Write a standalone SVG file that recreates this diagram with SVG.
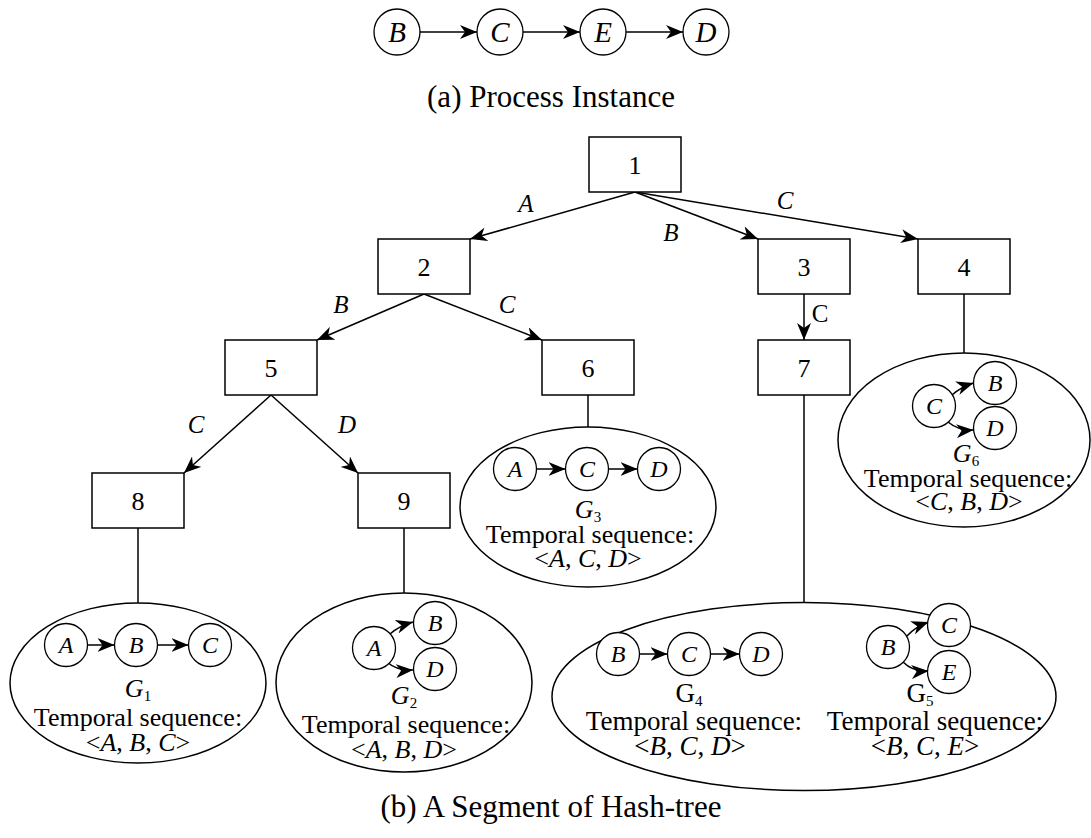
<svg xmlns="http://www.w3.org/2000/svg" width="1091" height="838" viewBox="0 0 1091 838">
<defs>
<marker id="ah" viewBox="0 0 17 14" refX="17" refY="7" markerWidth="17" markerHeight="14" markerUnits="userSpaceOnUse" orient="auto"><path d="M0,0 L17,7 L0,14 L5,7 z" fill="#000"/></marker>
</defs>
<style>
.box{fill:#fff;stroke:#000;stroke-width:1.5}
.ell{fill:none;stroke:#000;stroke-width:1.5}
.st{fill:#fff;stroke:#000;stroke-width:1.3}
.e{fill:none;stroke:#000;stroke-width:1.5}
.a{marker-end:url(#ah)}
text{font-family:"Liberation Serif","Times New Roman",serif;fill:#000}
.num{font-size:26px;text-anchor:middle}
.lbl{font-size:25px;font-style:italic;text-anchor:middle}
.up{font-size:25px;text-anchor:middle}
.sl{font-size:24px;font-style:italic;text-anchor:middle}
.big{font-size:29px;font-style:italic;text-anchor:middle}
.ts{font-size:26px;text-anchor:middle}
.tb{font-size:27px;text-anchor:middle}
.cap{font-size:31px;text-anchor:middle}
.sub{font-size:15px;font-style:normal}
.i{font-style:italic}
</style>

<g id="instance">
<g class="e a">
<line x1="420" y1="32" x2="477" y2="32"/>
<line x1="523" y1="32" x2="580" y2="32"/>
<line x1="626" y1="32" x2="683" y2="32"/>
</g>
<circle class="st" cx="397" cy="32" r="23"/><text class="big" x="397" y="42">B</text>
<circle class="st" cx="500" cy="32" r="23"/><text class="big" x="500" y="42">C</text>
<circle class="st" cx="603" cy="32" r="23"/><text class="big" x="603" y="42">E</text>
<circle class="st" cx="706" cy="32" r="23"/><text class="big" x="706" y="42">D</text>
<text class="cap" x="551" y="107">(a) Process Instance</text>
</g>

<g id="connectors">
<g class="e a">
<line x1="635" y1="192" x2="470" y2="239"/>
<line x1="635" y1="192" x2="758" y2="239"/>
<line x1="635" y1="192" x2="918" y2="239"/>
<line x1="424" y1="294" x2="317" y2="340"/>
<line x1="424" y1="294" x2="542" y2="340"/>
<line x1="804" y1="294" x2="804" y2="340"/>
<line x1="271" y1="395" x2="184" y2="473"/>
<line x1="271" y1="395" x2="358" y2="473"/>
</g>
<g class="e">
<line x1="964" y1="294" x2="964" y2="353"/>
<line x1="588" y1="395" x2="588" y2="427"/>
<line x1="804" y1="395" x2="804" y2="602.5"/>
<line x1="138" y1="528" x2="138" y2="603"/>
<line x1="404" y1="528" x2="404" y2="593"/>
</g>
<text class="lbl" x="526" y="212">A</text>
<text class="lbl" x="671" y="241">B</text>
<text class="lbl" x="785" y="209">C</text>
<text class="lbl" x="341" y="313">B</text>
<text class="lbl" x="507" y="313">C</text>
<text class="up" x="820" y="322">C</text>
<text class="lbl" x="196" y="433">C</text>
<text class="lbl" x="347" y="433">D</text>
</g>

<g id="node-1"><rect class="box" x="589" y="137" width="92" height="55"/><text class="num" x="635" y="174">1</text></g>
<g id="node-2"><rect class="box" x="378" y="239" width="92" height="55"/><text class="num" x="424" y="276">2</text></g>
<g id="node-3"><rect class="box" x="758" y="239" width="92" height="55"/><text class="num" x="804" y="276">3</text></g>
<g id="node-4"><rect class="box" x="918" y="239" width="92" height="55"/><text class="num" x="964" y="276">4</text></g>
<g id="node-5"><rect class="box" x="225" y="340" width="92" height="55"/><text class="num" x="271" y="377">5</text></g>
<g id="node-6"><rect class="box" x="542" y="340" width="92" height="55"/><text class="num" x="588" y="377">6</text></g>
<g id="node-7"><rect class="box" x="758" y="340" width="92" height="55"/><text class="num" x="804" y="377">7</text></g>
<g id="node-8"><rect class="box" x="92" y="473" width="92" height="55"/><text class="num" x="138" y="510">8</text></g>
<g id="node-9"><rect class="box" x="358" y="473" width="92" height="55"/><text class="num" x="404" y="510">9</text></g>

<g id="seq-G1">
<ellipse class="ell" cx="138" cy="683" rx="128" ry="80"/>
<g class="e a"><line x1="87.5" y1="645" x2="114.5" y2="645"/><line x1="157.5" y1="645" x2="188.5" y2="645"/></g>
<circle class="st" cx="66" cy="645" r="21.5"/><text class="sl" x="66" y="653">A</text>
<circle class="st" cx="136" cy="645" r="21.5"/><text class="sl" x="136" y="653">B</text>
<circle class="st" cx="210" cy="645" r="21.5"/><text class="sl" x="210" y="653">C</text>
<text class="ts" x="138" y="697"><tspan class="i">G</tspan><tspan class="sub" dy="4">1</tspan></text>
<text class="ts" x="138" y="726">Temporal sequence:</text>
<text class="ts" x="138" y="751">&lt;<tspan class="i">A</tspan>, <tspan class="i">B</tspan>, <tspan class="i">C</tspan>&gt;</text>
</g>

<g id="seq-G2">
<ellipse class="ell" cx="404" cy="682.5" rx="128" ry="89.5"/>
<g class="e a"><path d="M390,634 Q399,626 413,622"/><path d="M387,662 Q397,671 413,670"/></g>
<circle class="st" cx="374" cy="648" r="21.5"/><text class="sl" x="374" y="656">A</text>
<circle class="st" cx="435" cy="623" r="21.5"/><text class="sl" x="435" y="631">B</text>
<circle class="st" cx="435" cy="669" r="21.5"/><text class="sl" x="435" y="677">D</text>
<text class="ts" x="404" y="704"><tspan class="i">G</tspan><tspan class="sub" dy="4">2</tspan></text>
<text class="ts" x="406" y="733">Temporal sequence:</text>
<text class="ts" x="404" y="758">&lt;<tspan class="i">A</tspan>, <tspan class="i">B</tspan>, <tspan class="i">D</tspan>&gt;</text>
</g>

<g id="seq-G3">
<ellipse class="ell" cx="588" cy="507" rx="128" ry="80"/>
<g class="e a"><line x1="536.5" y1="469" x2="565.5" y2="469"/><line x1="608.5" y1="469" x2="637.5" y2="469"/></g>
<circle class="st" cx="515" cy="469" r="21.5"/><text class="sl" x="515" y="477">A</text>
<circle class="st" cx="587" cy="469" r="21.5"/><text class="sl" x="587" y="477">C</text>
<circle class="st" cx="659" cy="469" r="21.5"/><text class="sl" x="659" y="477">D</text>
<text class="ts" x="588" y="518"><tspan class="i">G</tspan><tspan class="sub" dy="4">3</tspan></text>
<text class="ts" x="590" y="543">Temporal sequence:</text>
<text class="ts" x="588" y="567">&lt;<tspan class="i">A</tspan>, <tspan class="i">C</tspan>, <tspan class="i">D</tspan>&gt;</text>
</g>

<g id="seq-G6">
<ellipse class="ell" cx="964" cy="440" rx="126" ry="87"/>
<g class="e a"><path d="M952,395 Q961,387 973.5,383"/><path d="M948,422 Q959,431 973.5,430"/></g>
<circle class="st" cx="934" cy="406" r="21.5"/><text class="sl" x="934" y="414">C</text>
<circle class="st" cx="995" cy="383" r="21.5"/><text class="sl" x="995" y="391">B</text>
<circle class="st" cx="995" cy="428" r="21.5"/><text class="sl" x="995" y="436">D</text>
<text class="ts" x="966" y="462"><tspan class="i">G</tspan><tspan class="sub" dy="4">6</tspan></text>
<text class="ts" x="968" y="487">Temporal sequence:</text>
<text class="ts" x="969" y="510">&lt;<tspan class="i">C</tspan>, <tspan class="i">B</tspan>, <tspan class="i">D</tspan>&gt;</text>
</g>

<g id="seq-G4-G5">
<ellipse class="ell" cx="804" cy="696.5" rx="252" ry="94"/>
<g id="seq-G4">
<g class="e a"><line x1="639.5" y1="654" x2="667.5" y2="654"/><line x1="710.5" y1="654" x2="739.5" y2="654"/></g>
<circle class="st" cx="618" cy="654" r="21.5"/><text class="sl" x="618" y="662">B</text>
<circle class="st" cx="689" cy="654" r="21.5"/><text class="sl" x="689" y="662">C</text>
<circle class="st" cx="761" cy="654" r="21.5"/><text class="sl" x="761" y="662">D</text>
<text class="tb" x="689" y="702">G<tspan class="sub" dy="4">4</tspan></text>
<text class="tb" x="694" y="730">Temporal sequence:</text>
<text class="tb" x="690" y="755">&lt;<tspan class="i">B</tspan>, <tspan class="i">C</tspan>, <tspan class="i">D</tspan>&gt;</text>
</g>
<g id="seq-G5">
<g class="e a"><path d="M907,636 Q915,627 928.5,622"/><path d="M903,662 Q913,672 928.5,671"/></g>
<circle class="st" cx="888" cy="647" r="21.5"/><text class="sl" x="888" y="655">B</text>
<circle class="st" cx="949" cy="625" r="21.5"/><text class="sl" x="949" y="633">C</text>
<circle class="st" cx="949" cy="672" r="21.5"/><text class="sl" x="949" y="680">E</text>
<text class="tb" x="920" y="702">G<tspan class="sub" dy="4">5</tspan></text>
<text class="tb" x="935" y="730">Temporal sequence:</text>
<text class="tb" x="925" y="755">&lt;<tspan class="i">B</tspan>, <tspan class="i">C</tspan>, <tspan class="i">E</tspan>&gt;</text>
</g>
</g>

<text class="cap" x="551" y="817">(b) A Segment of Hash-tree</text>
</svg>
